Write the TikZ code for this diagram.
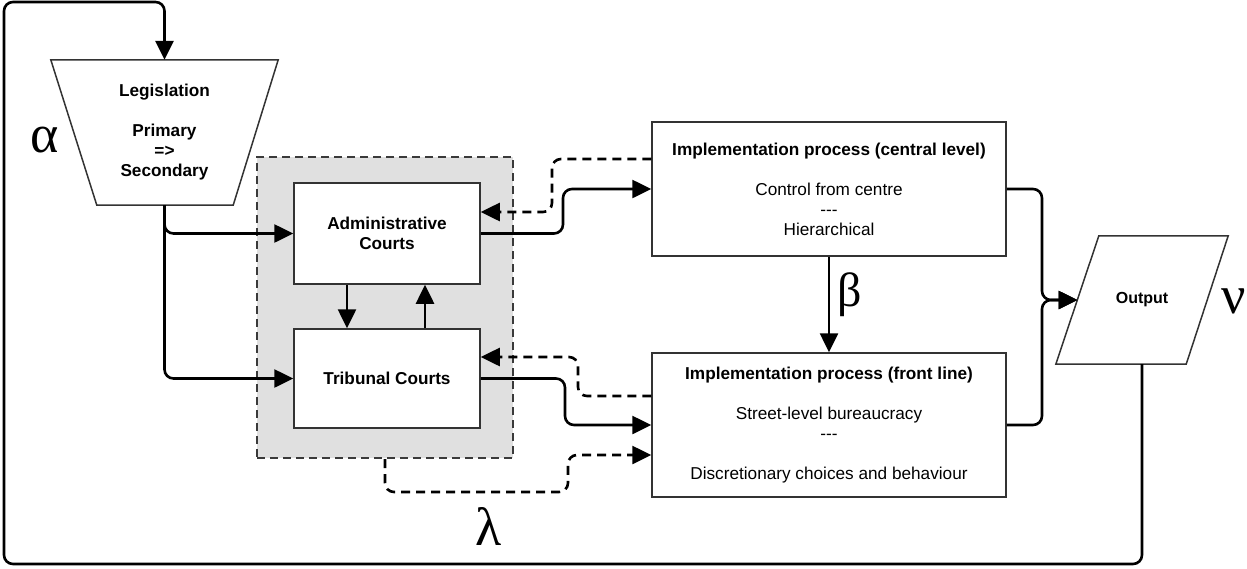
\documentclass[tikz,border=0pt]{standalone}
\usepackage{fontspec}
\setmainfont{Liberation Sans}
\newfontfamily\greekfont{Liberation Serif}
\usetikzlibrary{arrows.meta,calc}
\definecolor{groupfill}{HTML}{E0E0E0}
\definecolor{groupline}{HTML}{3A3A3A}
\definecolor{boxline}{HTML}{333333}

\begin{document}
\begin{tikzpicture}[x=1pt,y=-1pt,
  every node/.style={font=\fontsize{17.2}{20}\selectfont, inner sep=0pt, align=center},
  box/.style={draw=boxline, line width=1.5pt, fill=white},
  ghost/.style={inner sep=0pt},
  courtgroup/.style={draw=groupline, fill=groupfill, line width=2.4pt, dash pattern=on 8pt off 5pt},
  conn/.style={line width=2.6pt, rounded corners=9pt, -{Triangle[length=19pt,width=18pt]}},
  dconn/.style={conn, dash pattern=on 9pt off 6pt},
  greek/.style={font=\greekfont\fontsize{54}{54}\selectfont},
]
\useasboundingbox (0,0) rectangle (1247,568);

% grey frame round the two courts
\node[courtgroup, minimum width=256pt, minimum height=301pt] (grp) at (385,307.5) {};

% legislation (inverted trapezium)
\node[ghost, minimum width=227pt, minimum height=145pt] (leg) at (164.5,132.5) {};
\draw[draw=boxline, line width=1.5pt, fill=white]
  (leg.north west) -- (leg.north east) -- ($(leg.south east)+(-45,0)$)
  -- ($(leg.south west)+(46,0)$) -- cycle;
\node at (leg.center) {\textbf{Legislation}\\[20pt]\textbf{Primary}\\\textbf{=>}\\\textbf{Secondary}};

% courts
\node[box, minimum width=186pt, minimum height=101pt] (admin) at (387,233.5)
  {\textbf{Administrative}\\\textbf{Courts}};
\node[box, minimum width=186pt, minimum height=99pt] (trib) at (387,378.5)
  {\textbf{Tribunal Courts}};

% implementation processes
\node[box, minimum width=354pt, minimum height=134pt] (central) at (829,189)
  {\textbf{Implementation process (central level)}\\[20pt]Control from centre\\-{}-{}-\\Hierarchical};
\node[box, minimum width=354pt, minimum height=144pt] (front) at (829,425)
  {\textbf{Implementation process (front line)}\\[20pt]Street-level bureaucracy\\-{}-{}-\\[20pt]Discretionary choices and behaviour};

% output (parallelogram)
\node[ghost, minimum width=172pt, minimum height=128pt] (out) at (1142,300) {};
\draw[draw=boxline, line width=1.5pt, fill=white]
  (out.south west) -- ($(out.south east)+(-42,0)$) -- (out.north east)
  -- ($(out.north west)+(43,0)$) -- cycle;
\node[font=\fontsize{16}{18}\selectfont\bfseries] at (out.center) {Output};
\coordinate (outin) at (1077.5,300);

% connectors
\draw[conn] (out.south) -- (out.south |- 0,564) -- (4,564) -- (4,2)
  -- (leg.north |- 0,2) -- (leg.north);
\draw[conn] (leg.south) -- (leg.south |- 0,233.5) -- (admin.west);
\draw[conn] (leg.south) -- (leg.south |- 0,378.5) -- (trib.west);
\draw[conn] (admin.south -| 347,0) -- (trib.north -| 347,0);
\draw[conn] (trib.north -| 425,0) -- (admin.south -| 425,0);
\draw[conn] (admin.east) -- (563,233.5) -- (563,189) -- (central.west);
\draw[dconn] (central.west |- 0,159) -- (552,159) -- (552,212) -- (admin.east |- 0,212);
\draw[conn] (trib.east) -- (565,378.5) -- (565,425) -- (front.west);
\draw[dconn] (front.west |- 0,396) -- (578,396) -- (578,357) -- (trib.east |- 0,357);
\draw[dconn] (grp.south) -- (385,492) -- (568,492) -- (568,455) -- (front.west |- 0,455);
\draw[conn] (central.south) -- (front.north);
\draw[conn] (central.east) -- (1042,189) -- (1042,300) -- (outin);
\draw[conn] (front.east) -- (1042,425) -- (1042,300) -- (outin);

% greek labels
\node[greek] (alpha) at (45,140) {α};
\node[greek, font=\greekfont\fontsize{48}{48}\selectfont] (beta) at (850,295) {β};
\node[greek] (lambda) at (489,526) {λ};
\node[greek, anchor=west] (nu) at (1221,301) {ν};
\end{tikzpicture}
\end{document}
